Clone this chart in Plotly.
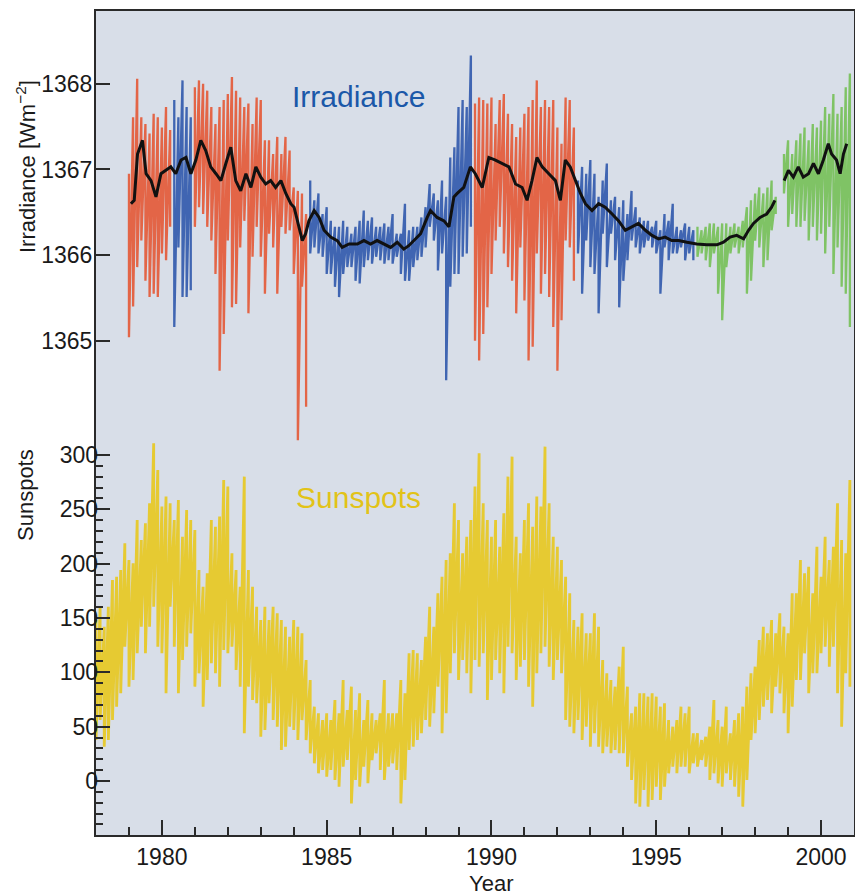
import plotly.graph_objects as go

# ---------------- data ----------------
# Irradiance daily-envelope samples every 1/8 year from 1979.0 to 2000.875
irr_start, irr_step = 1979.0, 0.125
irr_hi = [
    1366.95, 1367.61, 1368.06, 1367.61, 1367.53, 1367.42, 1367.65, 1367.61,  # 1979
    1367.49, 1367.73, 1367.46, 1367.81, 1367.61, 1368.04, 1367.73, 1367.61,  # 1980
    1367.96, 1368.04, 1368.00, 1367.92, 1367.73, 1367.53, 1367.73, 1367.81,  # 1981
    1367.88, 1368.08, 1367.92, 1367.84, 1367.73, 1367.77, 1367.53, 1367.84,  # 1982
    1367.81, 1367.34, 1367.34, 1367.18, 1367.38, 1367.18, 1367.38, 1367.22,  # 1983
    1366.79, 1366.75, 1366.72, 1366.48, 1366.87, 1366.64, 1366.72, 1366.48,  # 1984
    1366.56, 1366.40, 1366.33, 1366.33, 1366.40, 1366.33, 1366.25, 1366.33,  # 1985
    1366.40, 1366.52, 1366.40, 1366.44, 1366.33, 1366.33, 1366.37, 1366.33,  # 1986
    1366.48, 1366.25, 1366.25, 1366.60, 1366.29, 1366.33, 1366.33, 1366.44,  # 1987
    1366.56, 1366.83, 1366.72, 1366.64, 1366.87, 1366.68, 1367.14, 1367.26,  # 1988
    1367.73, 1367.81, 1367.73, 1368.33, 1367.77, 1367.84, 1367.81, 1367.77,  # 1989
    1367.84, 1367.53, 1367.81, 1367.88, 1367.65, 1367.53, 1367.38, 1367.49,  # 1990
    1367.65, 1367.73, 1367.81, 1368.04, 1367.73, 1367.81, 1367.73, 1367.81,  # 1991
    1367.49, 1367.30, 1367.84, 1367.81, 1367.49, 1366.87, 1367.03, 1366.95,  # 1992
    1367.11, 1366.95, 1366.68, 1366.87, 1367.07, 1366.64, 1366.68, 1366.56,  # 1993
    1366.64, 1366.48, 1366.75, 1366.56, 1366.44, 1366.40, 1366.40, 1366.33,  # 1994
    1366.40, 1366.29, 1366.48, 1366.40, 1366.60, 1366.33, 1366.29, 1366.37,  # 1995
    1366.33, 1366.29, 1366.33, 1366.29, 1366.33, 1366.37, 1366.37, 1366.33,  # 1996
    1366.37, 1366.37, 1366.33, 1366.37, 1366.33, 1366.40, 1366.56, 1366.64,  # 1997
    1366.72, 1366.79, 1366.72, 1366.79, 1366.87, 1366.68, None,    1367.18,  # 1998
    1367.34, 1367.18, 1367.34, 1367.42, 1367.49, 1367.34, 1367.53, 1367.49,  # 1999
    1367.57, 1367.73, 1367.65, 1367.88, 1367.65, 1367.73, 1367.96, 1368.12,  # 2000
]
irr_lo = [
    1365.04, 1365.40, 1365.86, 1366.17, 1365.70, 1365.51, 1365.55, 1365.51,  # 1979
    1366.02, 1365.94, 1366.33, 1365.16, 1366.09, 1365.51, 1365.51, 1365.59,  # 1980
    1366.33, 1366.56, 1366.48, 1366.33, 1366.17, 1365.78, 1364.65, 1365.08,  # 1981
    1366.17, 1365.39, 1365.43, 1366.09, 1366.40, 1365.32, 1365.98, 1366.33,  # 1982
    1365.98, 1365.55, 1366.25, 1366.09, 1365.55, 1366.33, 1366.25, 1366.29,  # 1983
    1365.78, 1363.84, 1365.63, 1364.23, 1366.02, 1366.09, 1366.02, 1365.98,  # 1984
    1365.78, 1365.78, 1365.63, 1365.51, 1365.78, 1365.86, 1365.86, 1365.70,  # 1985
    1365.67, 1365.86, 1365.94, 1365.90, 1365.98, 1365.94, 1365.90, 1365.94,  # 1986
    1365.90, 1365.98, 1365.78, 1365.70, 1365.70, 1365.86, 1365.94, 1365.98,  # 1987
    1366.09, 1366.33, 1366.17, 1365.82, 1366.02, 1364.54, 1365.63, 1365.78,  # 1988
    1365.78, 1365.98, 1366.02, 1366.33, 1365.00, 1364.77, 1365.08, 1365.39,  # 1989
    1365.78, 1366.17, 1366.33, 1366.02, 1365.86, 1365.70, 1365.32, 1366.09,  # 1990
    1365.47, 1364.77, 1364.93, 1366.02, 1365.55, 1365.78, 1365.51, 1365.16,  # 1991
    1364.65, 1365.24, 1366.17, 1366.09, 1365.70, 1366.02, 1365.55, 1366.17,  # 1992
    1365.86, 1365.78, 1365.32, 1366.25, 1365.86, 1366.25, 1365.94, 1365.39,  # 1993
    1365.70, 1365.94, 1366.17, 1366.09, 1366.02, 1366.09, 1366.17, 1366.09,  # 1994
    1366.02, 1365.55, 1366.09, 1365.94, 1366.02, 1366.02, 1366.09, 1365.94,  # 1995
    1366.02, 1365.94, 1365.98, 1366.02, 1365.94, 1365.86, 1366.02, 1365.55,  # 1996
    1365.24, 1365.86, 1366.02, 1366.09, 1366.02, 1366.09, 1365.55, 1365.70,  # 1997
    1366.17, 1366.09, 1365.86, 1365.94, 1366.29, 1366.48, None,    1366.72,  # 1998
    1366.33, 1366.48, 1366.33, 1366.33, 1366.40, 1366.17, 1366.33, 1366.17,  # 1999
    1366.25, 1366.02, 1366.33, 1365.78, 1366.09, 1365.63, 1365.55, 1365.16,  # 2000
]
# instrument segments (start year of each record piece) and their colour names
seg_starts = [1978.9, 1980.3, 1980.95, 1984.45, 1989.45, 1992.58, 1996.2]
seg_names = ["red", "blue", "red", "blue", "red", "blue", "green"]

# running mean (black)
mean_t = [1979.06, 1979.16, 1979.26, 1979.41, 1979.52, 1979.67, 1979.82, 1979.97,
          1980.12, 1980.27, 1980.42, 1980.58, 1980.73, 1980.88, 1981.03, 1981.18,
          1981.33, 1981.48, 1981.64, 1981.79, 1981.94, 1982.09, 1982.24, 1982.39,
          1982.55, 1982.70, 1982.85, 1983.00, 1983.15, 1983.30, 1983.45, 1983.61,
          1983.76, 1983.91, 1984.01, 1984.16, 1984.26, 1984.36, 1984.46, 1984.62,
          1984.77, 1984.92, 1985.12, 1985.32, 1985.47, 1985.68, 1985.93, 1986.13,
          1986.33, 1986.53, 1986.74, 1986.94, 1987.14, 1987.34, 1987.49, 1987.65,
          1987.85, 1988.05, 1988.15, 1988.35, 1988.56, 1988.71, 1988.86, 1988.96,
          1989.16, 1989.36, 1989.51, 1989.72, 1989.92, 1990.12, 1990.32, 1990.53,
          1990.73, 1990.93, 1991.08, 1991.23, 1991.38, 1991.54, 1991.74, 1991.94,
          1992.09, 1992.24, 1992.39, 1992.55, 1992.70, 1992.85, 1993.05, 1993.25,
          1993.45, 1993.66, 1993.86, 1994.06, 1994.26, 1994.46, 1994.67, 1994.87,
          1995.07, 1995.27, 1995.47, 1995.68, 1995.93, 1996.23, 1996.53, 1996.84,
          1997.04, 1997.24, 1997.44, 1997.65, 1997.80, 1997.95, 1998.15, 1998.35,
          1998.50, 1998.60, 1998.74, 1998.88, 1999.01, 1999.16, 1999.31, 1999.46,
          1999.62, 1999.77, 1999.92, 2000.07, 2000.22, 2000.32, 2000.47, 2000.58,
          2000.68, 2000.78]
mean_v = [1366.60, 1366.64, 1367.18, 1367.34, 1366.95, 1366.87, 1366.68, 1366.95,
          1366.99, 1367.03, 1366.95, 1367.11, 1367.14, 1366.95, 1367.11, 1367.34,
          1367.22, 1367.03, 1366.95, 1366.87, 1367.07, 1367.26, 1366.87, 1366.75,
          1366.95, 1366.79, 1367.03, 1366.91, 1366.83, 1366.87, 1366.79, 1366.87,
          1366.72, 1366.60, 1366.56, 1366.33, 1366.17, 1366.25, 1366.40, 1366.52,
          1366.44, 1366.29, 1366.21, 1366.17, 1366.09, 1366.13, 1366.13, 1366.17,
          1366.13, 1366.17, 1366.13, 1366.09, 1366.15, 1366.07, 1366.11, 1366.17,
          1366.25, 1366.44, 1366.52, 1366.44, 1366.40, 1366.33, 1366.68, 1366.72,
          1366.79, 1367.03, 1366.95, 1366.79, 1367.14, 1367.11, 1367.07, 1367.03,
          1366.83, 1366.79, 1366.64, 1366.87, 1367.14, 1367.03, 1366.95, 1366.87,
          1366.64, 1367.11, 1367.03, 1366.87, 1366.72, 1366.60, 1366.52, 1366.60,
          1366.56, 1366.48, 1366.40, 1366.29, 1366.33, 1366.37, 1366.29, 1366.23,
          1366.19, 1366.21, 1366.17, 1366.17, 1366.15, 1366.13, 1366.12, 1366.12,
          1366.15, 1366.21, 1366.23, 1366.19, 1366.29, 1366.37, 1366.44, 1366.48,
          1366.56, 1366.64, None,    1366.87, 1366.99, 1366.91, 1367.03, 1366.91,
          1366.95, 1367.07, 1366.95, 1367.11, 1367.30, 1367.18, 1367.11, 1366.95,
          1367.18, 1367.30]

# Sunspot daily-envelope samples every 1/8 year from 1978.0 to 2000.875
sun_start, sun_step = 1978.0, 0.125
sun_hi = [
    148.2, 160.4, 142.0, 160.4, 185.0, 188.0, 194.2, 218.7,   # 1978
    203.4, 200.3, 240.2, 221.8, 237.1, 255.5, 310.7, 286.2,   # 1979
    252.5, 261.7, 255.5, 240.2, 258.6, 224.8, 249.4, 240.2,   # 1980
    231.0, 194.2, 178.8, 191.1, 240.2, 234.0, 243.3, 277.0,   # 1981
    270.9, 209.5, 194.2, 178.8, 280.1, 194.2, 178.8, 160.4,   # 1982
    148.2, 160.4, 148.2, 160.4, 154.3, 148.2, 142.0, 132.8,   # 1983
    148.2, 142.0, 135.9, 111.3, 92.9, 68.4, 62.3, 56.1,       # 1984
    62.3, 56.1, 74.5, 62.3, 92.9, 65.3, 86.8, 65.3,           # 1985
    80.7, 56.1, 74.5, 62.3, 56.1, 62.3, 92.9, 62.3,           # 1986
    62.3, 62.3, 92.9, 80.7, 117.5, 120.6, 117.5, 111.3,       # 1987
    132.8, 160.4, 142.0, 172.7, 188.0, 203.4, 209.5, 255.5,   # 1988
    240.2, 209.5, 224.8, 240.2, 270.9, 301.5, 255.5, 240.2,   # 1989
    224.8, 240.2, 215.6, 246.3, 280.1, 298.5, 224.8, 209.5,   # 1990
    240.2, 255.5, 234.0, 261.7, 252.5, 307.7, 255.5, 224.8,   # 1991
    215.6, 203.4, 188.0, 172.7, 148.2, 142.0, 154.3, 135.9,   # 1992
    135.9, 154.3, 142.0, 111.3, 99.1, 92.9, 86.8, 105.2,      # 1993
    123.6, 86.8, 62.3, 68.4, 80.7, 80.7, 77.6, 80.7,          # 1994
    77.6, 68.4, 71.5, 56.1, 50.0, 56.1, 68.4, 62.3,           # 1995
    68.4, 43.9, 43.9, 37.7, 40.8, 50.0, 74.5, 56.1,           # 1996
    50.0, 68.4, 43.9, 56.1, 62.3, 68.4, 86.8, 99.1,           # 1997
    105.2, 129.8, 142.0, 135.9, 148.2, 135.9, 154.3, 142.0,   # 1998
    135.9, 172.7, 172.7, 203.4, 191.1, 197.2, 172.7, 215.6,   # 1999
    188.0, 224.8, 203.4, 215.6, 255.5, 221.8, 209.5, 277.0,   # 2000
]
sun_lo = [
    37.7, 56.1, 31.6, 37.7, 56.1, 68.4, 80.7, 123.6,          # 1978
    86.8, 92.9, 117.5, 142.0, 117.5, 142.0, 160.4, 123.6,     # 1979
    117.5, 80.7, 160.4, 123.6, 80.7, 111.3, 123.6, 135.9,     # 1980
    86.8, 99.1, 68.4, 92.9, 108.3, 99.1, 86.8, 120.6,         # 1981
    117.5, 123.6, 102.1, 86.8, 43.9, 86.8, 74.5, 71.5,        # 1982
    40.8, 46.9, 71.5, 56.1, 50.0, 28.5, 31.6, 50.0,           # 1983
    46.9, 37.7, 56.1, 37.7, 25.5, 16.3, 7.1, 10.1,            # 1984
    4.0, 10.1, 0.9, -5.2, 13.2, 19.3, -20.6, 0.9,             # 1985
    -5.2, 13.2, -2.1, 19.3, 25.5, 10.1, 0.9, 13.2,            # 1986
    16.3, 10.1, -20.6, 0.9, 28.5, 31.6, 37.7, 43.9,           # 1987
    56.1, 50.0, 62.3, 86.8, 43.9, 62.3, 99.1, 117.5,          # 1988
    92.9, 111.3, 99.1, 80.7, 111.3, 105.2, 117.5, 74.5,       # 1989
    92.9, 111.3, 99.1, 80.7, 123.6, 117.5, 92.9, 105.2,       # 1990
    111.3, 86.8, 68.4, 99.1, 117.5, 123.6, 105.2, 92.9,       # 1991
    111.3, 99.1, 56.1, 50.0, 43.9, 56.1, 37.7, 50.0,          # 1992
    31.6, 43.9, 31.6, 25.5, 31.6, 25.5, 28.5, 25.5,           # 1993
    25.5, 13.2, 0.9, -20.6, -23.6, -8.3, -23.6, -17.5,        # 1994
    -5.2, -17.5, -5.2, 7.1, 13.2, 7.1, 13.2, 13.2,            # 1995
    7.1, 16.3, 13.2, 19.3, 13.2, 0.9, 7.1, -2.1,              # 1996
    -5.2, 7.1, 0.9, -5.2, -14.4, -23.6, 0.9, 37.7,            # 1997
    43.9, 56.1, 68.4, 74.5, 62.3, 86.8, 80.7, 62.3,           # 1998
    43.9, 68.4, 92.9, 92.9, 117.5, 80.7, 99.1, 99.1,          # 1999
    117.5, 123.6, 105.2, 123.6, 80.7, 50.0, 99.1, 86.8,       # 2000
]

x_ticks = [1980, 1985, 1990, 1995, 2000]
irr_ticks = [1365, 1366, 1367, 1368]
sun_ticks = [0, 50, 100, 150, 200, 250, 300]

assert len(irr_hi) == len(irr_lo) and len(sun_hi) == len(sun_lo)
assert len(mean_t) == len(mean_v)

# ---------------- styling ----------------
COL = {"red": "rgba(229,80,42,0.85)", "blue": "rgba(42,84,170,0.88)",
       "green": "rgba(112,190,78,0.85)", "yellow": "rgba(232,200,30,0.9)"}
BG = "#d8dee8"
AX = "#2a2a2a"
FONT = "Liberation Sans, Arial, Helvetica, sans-serif"
# page body adds an 8 px margin; size the figure so the frame lands where it should
OFF = 8
W, H = 855, 887
ML, MR, MT, MB = 88, 9, 3, 60

irr_t = [irr_start + i * irr_step for i in range(len(irr_hi))]
sun_t = [sun_start + i * sun_step for i in range(len(sun_hi))]


def zigzag(ts, his, los):
    """Noisy trace: at each sample time go from the high to the low value."""
    xs, ys = [], []
    for t, h, l in zip(ts, his, los):
        if h is None or l is None:
            xs.append(None)
            ys.append(None)
            continue
        xs += [t, t]
        ys += [h, l]
    return xs, ys


fig = go.Figure()

# sunspots
sx, sy = zigzag(sun_t, sun_hi, sun_lo)
fig.add_trace(go.Scatter(x=sx, y=sy, yaxis="y2", mode="lines",
                         line=dict(color=COL["yellow"], width=2.8),
                         hoverinfo="skip", showlegend=False))

# irradiance by instrument segment
seg_ends = seg_starts[1:] + [2002]
for s0, s1, name in zip(seg_starts, seg_ends, seg_names):
    sel = [(t, h, l) for t, h, l in zip(irr_t, irr_hi, irr_lo) if s0 <= t < s1]
    bx, by = zigzag([a[0] for a in sel], [a[1] for a in sel], [a[2] for a in sel])
    fig.add_trace(go.Scatter(x=bx, y=by, mode="lines",
                             line=dict(color=COL[name], width=2.3),
                             hoverinfo="skip", showlegend=False))

fig.add_trace(go.Scatter(x=mean_t, y=mean_v, mode="lines",
                         line=dict(color="#111111", width=3),
                         connectgaps=False, hoverinfo="skip", showlegend=False))


def px_x(p):  # screen pixel -> paper fraction
    return (p - OFF - ML) / (W - ML - MR)


def px_y(p):
    return (H - MB - (p - OFF)) / (H - MT - MB)


fig.update_layout(
    width=W, height=H,
    margin=dict(l=ML, r=MR, t=MT, b=MB, autoexpand=False),
    paper_bgcolor="white", plot_bgcolor=BG,
    font=dict(family=FONT, color="#1a1a1a", size=23),
    xaxis=dict(range=[1978, 2001], tickvals=x_ticks, ticks="inside",
               ticklen=15, tickwidth=2, tickcolor=AX,
               minor=dict(tickvals=[y for y in range(1979, 2001) if y not in x_ticks],
                          ticks="inside", ticklen=8, tickwidth=2, tickcolor=AX),
               showline=True, linecolor=AX, linewidth=2, mirror=True,
               showgrid=False, zeroline=False, tickfont=dict(size=23)),
    yaxis=dict(range=[1359.23, 1368.85], tickvals=irr_ticks, ticks="inside",
               ticklen=14, tickwidth=2, tickcolor=AX, ticklabelstandoff=-3,
               showline=True, linecolor=AX, linewidth=2, mirror=True,
               showgrid=False, zeroline=False, tickfont=dict(size=23)),
    yaxis2=dict(range=[-49.7, 708.6], overlaying="y", side="left", anchor="x",
                tickvals=sun_ticks, ticks="inside", ticklen=14, tickwidth=2,
                tickcolor=AX, ticklabelstandoff=-3,
                minor=dict(tickvals=[v for v in range(-40, 301, 10) if v % 50 != 0],
                           ticks="inside", ticklen=7, tickwidth=2, tickcolor=AX),
                showline=False, showgrid=False, zeroline=False,
                tickfont=dict(size=23)),
    annotations=[
        dict(text="Irradiance", x=1983.9, y=1367.85, xref="x", yref="y",
             xanchor="left", yanchor="middle", showarrow=False,
             font=dict(size=30, color="#1b58a8")),
        dict(text="Sunspots", x=1984.0, y=261, xref="x", yref="y2",
             xanchor="left", yanchor="middle", showarrow=False,
             font=dict(size=30, color="#e2c318")),
        dict(text="Irradiance [Wm<sup>−2</sup>]", x=px_x(26), y=px_y(167),
             xref="paper", yref="paper", xanchor="center", yanchor="middle",
             showarrow=False, textangle=-90, font=dict(size=22)),
        dict(text="Sunspots", x=px_x(26), y=px_y(495), xref="paper", yref="paper",
             xanchor="center", yanchor="middle",
             showarrow=False, textangle=-90, font=dict(size=22)),
        dict(text="Year", x=px_x(491), y=px_y(883), xref="paper", yref="paper",
             xanchor="center", yanchor="middle", showarrow=False,
             font=dict(size=22)),
    ],
)

fig.write_html("out.html")
